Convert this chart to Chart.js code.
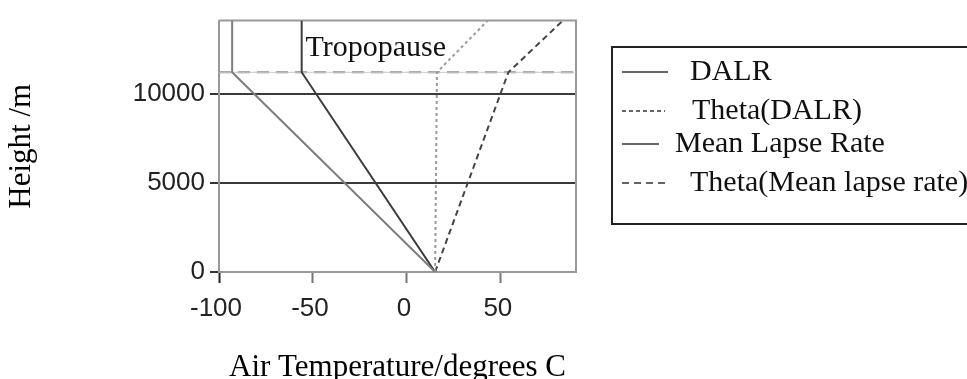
<!DOCTYPE html>
<html>
<head>
<meta charset="utf-8">
<script src="https://cdn.jsdelivr.net/npm/chart.js@4/dist/chart.umd.min.js"></script>
<style>
  html, body { margin: 0; padding: 0; background: #fff; }
  canvas { display: block; }
</style>
</head>
<body>
<canvas id="chart" width="967" height="379"></canvas>
<script>
// heights (m) where each profile changes slope: surface, tropopause, top of plot
const heights = [0, 11200, 14100];

// temperatures (deg C) at those heights
const dalr = [15, -93, -93];
const thetaDalr = [15, 16, 43];
const meanLapse = [15, -56, -56];
const thetaMean = [15, 54, 83];

const tropopauseHeight = 11200;
const tropopauseSpan = [-100, 90];

const xTicks = [-100, -50, 0, 50];
const yTicks = [0, 5000, 10000];

function pts(temps) {
  return temps.map((t, i) => ({x: t, y: heights[i]}));
}

const serif = "'Liberation Serif', 'Times New Roman', serif";
const sans = "'Liberation Sans', Arial, sans-serif";

// legend + tropopause label + top/right frame
const extras = {
  id: 'extras',
  beforeDatasetsDraw(chart) {
    const ctx = chart.ctx;
    const a = chart.chartArea;
    ctx.save();
    ctx.strokeStyle = '#999';
    ctx.lineWidth = 2;
    ctx.beginPath();
    ctx.moveTo(a.left, a.top);
    ctx.lineTo(a.right, a.top);
    ctx.lineTo(a.right, a.bottom);
    ctx.stroke();
    ctx.restore();
  },
  afterDraw(chart) {
    const ctx = chart.ctx;
    const xs = chart.scales.x, ys = chart.scales.y;
    ctx.save();

    // label above the tropopause line
    ctx.font = '30px ' + serif;
    ctx.fillStyle = '#111';
    ctx.textAlign = 'left';
    ctx.textBaseline = 'alphabetic';
    ctx.fillText('Tropopause', xs.getPixelForValue(-54), ys.getPixelForValue(12120));

    // legend box, open on the right
    ctx.strokeStyle = '#222';
    ctx.lineWidth = 2;
    ctx.beginPath();
    ctx.moveTo(970, 47);
    ctx.lineTo(612, 47);
    ctx.lineTo(612, 224);
    ctx.lineTo(970, 224);
    ctx.stroke();

    const rows = [
      {y: 72, len: 46, dash: [], textX: 690},
      {y: 111, len: 43, dash: [4, 3], textX: 692},
      {y: 144, len: 37, dash: [], textX: 675},
      {y: 183, len: 43, dash: [7, 5], textX: 690}
    ];
    chart.data.datasets.slice(0, 4).forEach((ds, i) => {
      const r = rows[i];
      ctx.strokeStyle = '#333';
      ctx.lineWidth = 1.5;
      ctx.setLineDash(r.dash);
      ctx.beginPath();
      ctx.moveTo(622, r.y);
      ctx.lineTo(622 + r.len, r.y);
      ctx.stroke();
      ctx.setLineDash([]);
      ctx.font = '30px ' + serif;
      ctx.fillStyle = '#111';
      ctx.textBaseline = 'middle';
      ctx.fillText(ds.label, r.textX, r.y);
    });
    ctx.restore();
  }
};

new Chart(document.getElementById('chart'), {
  type: 'line',
  data: {
    datasets: [
      {label: 'DALR', data: pts(dalr), borderColor: '#7d7d7d', borderWidth: 2},
      {label: 'Theta(DALR)', data: pts(thetaDalr), borderColor: '#9a9a9a', borderWidth: 2, borderDash: [3, 3]},
      {label: 'Mean Lapse Rate', data: pts(meanLapse), borderColor: '#3c3c3c', borderWidth: 2},
      {label: 'Theta(Mean lapse rate)', data: pts(thetaMean), borderColor: '#444', borderWidth: 2, borderDash: [6, 4]},
      {label: 'tropopause', data: tropopauseSpan.map(t => ({x: t, y: tropopauseHeight})), borderColor: '#c8c8c8', borderWidth: 1},
      {label: 'tropopause dash', data: tropopauseSpan.map(t => ({x: t, y: tropopauseHeight})), borderColor: '#888', borderWidth: 2, borderDash: [12, 7]}
    ]
  },
  options: {
    responsive: false,
    animation: false,
    devicePixelRatio: 1,
    layout: {padding: {top: 12, right: 391, left: 0, bottom: 0}},
    elements: {point: {radius: 0}, line: {tension: 0}},
    plugins: {legend: {display: false}, tooltip: {enabled: false}},
    scales: {
      x: {
        type: 'linear',
        min: -100,
        max: 90,
        afterBuildTicks: s => { s.ticks = xTicks.map(v => ({value: v})); },
        afterFit: s => { s.height = 107; },
        border: {color: '#999', width: 2},
        grid: {
          drawOnChartArea: false,
          tickLength: 11,
          tickWidth: 2,
          tickColor: c => c.tick && c.tick.value === -100 ? '#222' : '#777'
        },
        ticks: {
          callback: v => String(v),
          font: {family: sans, size: 26},
          color: '#222',
          padding: 10,
          labelOffset: -3,
          maxRotation: 0
        },
        title: {
          display: true,
          text: 'Air Temperature/degrees C',
          font: {family: serif, size: 31, lineHeight: 0.75},
          color: '#000',
          padding: 0
        }
      },
      y: {
        type: 'linear',
        min: 0,
        max: 14100,
        afterBuildTicks: s => { s.ticks = yTicks.map(v => ({value: v})); },
        afterFit: s => { s.width = 219; },
        border: {color: '#999', width: 2},
        grid: {
          color: c => c.tick && c.tick.value === 0 ? '#999' : '#3a3a3a',
          lineWidth: 2,
          tickLength: 9,
          tickColor: '#333'
        },
        ticks: {
          callback: v => String(v),
          font: {family: sans, size: 26},
          color: '#222',
          padding: 5
        },
        title: {
          display: true,
          text: 'Height /m',
          font: {family: serif, size: 31, lineHeight: 1},
          color: '#000',
          padding: {top: 6.5, bottom: 0}
        }
      }
    }
  },
  plugins: [extras]
});
</script>
</body>
</html>
